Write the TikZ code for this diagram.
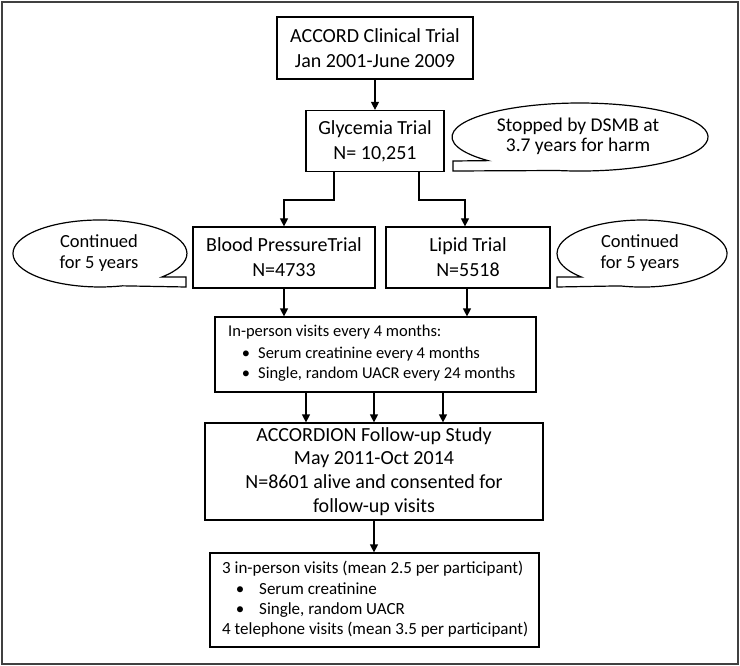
\documentclass[tikz,border=0pt]{standalone}
\usepackage{fontspec}
\setmainfont{Carlito}
\usetikzlibrary{arrows.meta}
\begin{document}
\begin{tikzpicture}[x=1pt,y=1pt,
  box/.style={draw, line width=1.2pt, inner sep=0pt, align=center},
  arr/.style={line width=1.2pt, -{Triangle[length=8pt,width=8pt]}},
  big/.style={font=\fontsize{20}{25}\selectfont},
  calltext/.style={align=center, inner sep=0pt, font=\fontsize{19.5}{20}\selectfont},
  sm/.style={inner sep=0pt, font=\fontsize{16.5}{19}\selectfont},
  smf/.style={inner sep=0pt, font=\fontsize{17}{19}\selectfont},
  call/.style={line width=1.2pt, fill=white}]
\useasboundingbox (0,0) rectangle (740,-666);
\draw[line width=2.5pt, black!75] (2,-2) rectangle (738,-664);

% main boxes
\node[box, big, minimum width=196pt, minimum height=62pt] (accord) at (375,-48) {ACCORD Clinical Trial\\Jan 2001-June 2009};
\node[box, big, minimum width=138pt, minimum height=61pt] (glyc) at (375,-141) {Glycemia Trial\\N= 10,251};
\node[box, big, minimum width=182pt, minimum height=61pt] (bp) at (284,-257.5) {Blood PressureTrial\\N=4733};
\node[box, big, minimum width=164pt, minimum height=61pt] (lipid) at (468,-257.5) {Lipid Trial\\N=5518};
\node[box, minimum width=321pt, minimum height=75pt] (visits) at (375.5,-354.5) {};
\node[box, font=\fontsize{20}{23.7}\selectfont, minimum width=338pt, minimum height=97pt] (accordion) at (374,-471.5) {ACCORDION Follow-up Study\\May 2011-Oct 2014\\N=8601 alive and consented for\\follow-up visits};
\node[box, minimum width=329pt, minimum height=94pt] (final) at (374.5,-600) {};

% text of visits box
\node[sm, anchor=base west] (v1) at (228,-337) {In-person visits every 4 months:};
\node[sm, anchor=base] (v2b) at (246,-358) {\textbullet};
\node[sm, anchor=base west] (v2) at (258,-358) {Serum creatinine every 4 months};
\node[sm, anchor=base] (v3b) at (246,-378.5) {\textbullet};
\node[sm, anchor=base west] (v3) at (258,-378.5) {Single, random UACR every 24 months};

% text of final box
\node[smf, anchor=base west] (f1) at (222,-573) {3 in-person visits (mean 2.5 per participant)};
\node[smf, anchor=base] (f2b) at (240,-594) {\textbullet};
\node[smf, anchor=base west] (f2) at (259,-594) {Serum creatinine};
\node[smf, anchor=base] (f3b) at (240,-614) {\textbullet};
\node[smf, anchor=base west] (f3) at (259,-614) {Single, random UACR};
\node[smf, anchor=base west] (f4) at (222,-634.5) {4 telephone visits (mean 3.5 per participant)};

% callouts
\draw[call] (557.8,-170.5) arc[start angle=260, end angle=584, x radius=128, y radius=34] -- (453,-161) -- (453,-171) -- cycle;
\node[calltext] (stop) at (578,-136.5) {Stopped by DSMB at\\3.7 years for harm};
\draw[call] (161.9,-277) arc[start angle=315.4, end angle=645, x radius=87, y radius=33.5] -- (186,-287) -- (186,-277) -- cycle;
\node[calltext, font=\fontsize{18.5}{21}\selectfont] (contl) at (99,-253.5) {Continued\\for 5 years};
\draw[call] (620,-285.9) arc[start angle=255, end angle=584.6, x radius=85, y radius=33.5] -- (557,-277) -- (557,-287) -- cycle;
\node[calltext, font=\fontsize{18.5}{21}\selectfont] (contr) at (640,-253.5) {Continued\\for 5 years};

% connectors
\draw[arr] (accord.south) -- (glyc.north);
\draw[arr] ([xshift=-41pt]glyc.south) -- ++(0,-28) -| (bp.north);
\draw[arr] ([xshift=44pt]glyc.south) -- ++(0,-28) -| ([xshift=-3pt]lipid.north);
\draw[arr] (bp.south) -- (bp.south |- visits.north);
\draw[arr] ([xshift=-1pt]lipid.south) -- ([xshift=-1pt]lipid.south |- visits.north);
\draw[arr] ([xshift=-69.5pt]visits.south) -- ([xshift=-69.5pt]visits.south |- accordion.north);
\draw[arr] ([xshift=-1.5pt]visits.south) -- ([xshift=-1.5pt]visits.south |- accordion.north);
\draw[arr] ([xshift=67.5pt]visits.south) -- ([xshift=67.5pt]visits.south |- accordion.north);
\draw[arr] (accordion.south) -- (accordion.south |- final.north);
\end{tikzpicture}
\end{document}
